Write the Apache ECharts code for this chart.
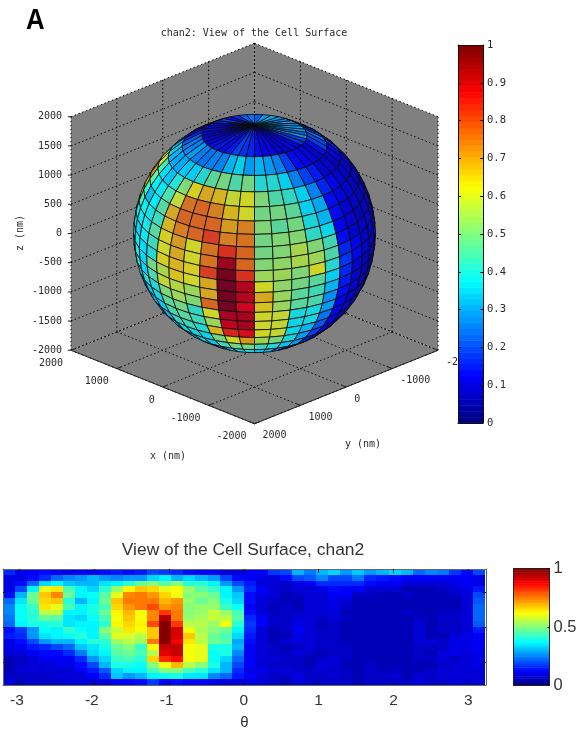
<!DOCTYPE html>
<html><head><meta charset="utf-8">
<style>html,body{margin:0;padding:0;background:#fff}#c{width:586px;height:729px}</style>
<script src="https://cdn.jsdelivr.net/npm/echarts@6/dist/echarts.min.js"></script>
</head><body><div id="c"></div>
<script>
// Surface intensity: one array per theta column, 20 values from the top z band down.
const surfaceValues = [
[.17,.10,.10,.10,.14,.23,.25,.25,.24,.22,.14,.15,.10,.10,.08,.06,.06,.06,.07,.08],
[.12,.10,.13,.20,.30,.35,.38,.38,.38,.37,.18,.17,.13,.12,.09,.07,.07,.08,.07,.07],
[.12,.13,.22,.37,.47,.47,.43,.42,.42,.40,.28,.28,.20,.15,.12,.09,.08,.08,.07,.07],
[.13,.17,.33,.60,.68,.66,.65,.55,.47,.40,.38,.35,.27,.16,.13,.11,.09,.08,.07,.07],
[.11,.22,.36,.65,.74,.68,.60,.57,.46,.41,.37,.37,.30,.20,.14,.12,.10,.09,.08,.07],
[.10,.25,.32,.45,.48,.42,.44,.36,.35,.35,.43,.38,.30,.22,.16,.12,.10,.09,.08,.08],
[.12,.27,.30,.37,.36,.30,.36,.37,.33,.36,.38,.42,.36,.32,.24,.17,.14,.12,.09,.08],
[.12,.30,.30,.33,.38,.36,.40,.40,.38,.37,.37,.36,.42,.35,.34,.28,.20,.15,.11,.08],
[.13,.28,.35,.42,.46,.47,.45,.47,.44,.42,.50,.46,.42,.40,.36,.34,.30,.21,.17,.09],
[.15,.25,.37,.52,.60,.68,.66,.63,.62,.63,.57,.60,.53,.48,.46,.43,.40,.33,.32,.12],
[.14,.28,.42,.63,.74,.75,.72,.70,.68,.67,.65,.58,.55,.50,.47,.44,.40,.37,.28,.12],
[.15,.28,.47,.68,.75,.76,.75,.62,.62,.63,.62,.56,.52,.43,.44,.42,.38,.36,.30,.13],
[.20,.34,.50,.66,.72,.76,.80,.74,.74,.80,.68,.68,.75,.62,.55,.66,.50,.44,.37,.18],
[.18,.37,.46,.60,.67,.70,.72,.82,.94,1.0,1.0,1.0,1.0,.93,.90,.83,.62,.50,.38,.12],
[.17,.30,.50,.62,.62,.72,.74,.75,.75,.82,.92,.92,.88,.93,.93,.87,.69,.50,.40,.13],
[.13,.33,.42,.52,.50,.52,.50,.50,.53,.55,.62,.68,.65,.62,.62,.62,.55,.45,.35,.12],
[.12,.30,.42,.46,.50,.47,.53,.53,.54,.55,.54,.56,.56,.60,.60,.60,.50,.42,.35,.12],
[.11,.27,.37,.43,.47,.50,.53,.57,.57,.53,.50,.47,.47,.40,.38,.38,.40,.35,.26,.10],
[.09,.20,.27,.36,.36,.40,.43,.53,.55,.62,.47,.45,.46,.40,.40,.33,.30,.30,.22,.09],
[.08,.13,.20,.27,.32,.34,.38,.44,.46,.42,.37,.34,.29,.30,.25,.22,.20,.17,.15,.08],
[.12,.11,.15,.17,.14,.14,.12,.14,.17,.18,.17,.15,.14,.12,.12,.12,.11,.10,.12,.10],
[.12,.10,.09,.12,.10,.09,.09,.09,.12,.11,.09,.09,.08,.08,.08,.08,.09,.10,.09,.08],
[.18,.09,.08,.08,.08,.07,.06,.07,.07,.07,.06,.05,.06,.07,.07,.08,.07,.08,.07,.07],
[.20,.13,.07,.07,.06,.06,.07,.07,.07,.07,.07,.06,.08,.06,.07,.07,.07,.08,.07,.06],
[.30,.20,.10,.08,.07,.06,.06,.07,.08,.10,.11,.10,.08,.07,.08,.07,.07,.07,.10,.08],
[.24,.21,.12,.08,.08,.08,.08,.08,.08,.09,.09,.09,.08,.08,.07,.06,.06,.07,.07,.07],
[.31,.25,.17,.10,.08,.08,.08,.08,.07,.06,.07,.07,.07,.07,.05,.07,.08,.08,.07,.07],
[.33,.20,.17,.13,.11,.10,.10,.09,.09,.07,.07,.07,.07,.07,.07,.08,.08,.07,.08,.07],
[.27,.19,.17,.12,.12,.08,.07,.06,.07,.06,.05,.06,.06,.07,.07,.07,.06,.07,.07,.07],
[.32,.24,.16,.11,.07,.06,.06,.06,.05,.05,.05,.05,.05,.06,.05,.06,.05,.06,.06,.06],
[.28,.17,.13,.09,.07,.06,.05,.05,.05,.06,.05,.05,.05,.05,.05,.05,.07,.07,.07,.07],
[.31,.15,.11,.08,.06,.05,.05,.05,.05,.05,.05,.05,.05,.05,.06,.06,.05,.06,.07,.07],
[.34,.14,.11,.08,.05,.05,.05,.05,.05,.05,.05,.05,.05,.05,.05,.05,.05,.07,.08,.07],
[.30,.12,.09,.06,.07,.06,.06,.07,.06,.05,.05,.05,.05,.05,.05,.05,.05,.06,.05,.07],
[.23,.11,.09,.06,.05,.05,.05,.05,.07,.08,.08,.08,.08,.07,.07,.07,.05,.06,.08,.09],
[.26,.12,.08,.05,.05,.05,.05,.05,.05,.05,.05,.06,.09,.07,.06,.07,.06,.07,.07,.07],
[.24,.12,.08,.07,.06,.05,.06,.07,.07,.07,.07,.06,.07,.07,.08,.08,.07,.08,.08,.07],
[.18,.11,.10,.08,.07,.06,.06,.07,.07,.07,.07,.08,.10,.10,.10,.07,.08,.09,.08,.08],
[.13,.12,.11,.10,.09,.09,.08,.08,.09,.09,.09,.10,.10,.10,.09,.08,.09,.08,.09,.08],
[.19,.10,.10,.15,.20,.21,.22,.22,.22,.21,.15,.12,.11,.11,.10,.10,.10,.09,.09,.08]
];
const boxTicks = [2000, 1000, 0, -1000, -2000];
const yTickLabels = ['2000', '1000', '0', '-1000', '-2'];
const zTicks = [2000, 1500, 1000, 500, 0, -500, -1000, -1500, -2000];
const thetaTicks = [-3, -2, -1, 0, 1, 2, 3];
const zBandTicks = [-0.6, 0, 0.6];
const sphereRadiusNm = 1865;
const frontColumnEdge = 15;          // theta column edge that faces the viewer

const MONO = '"DejaVu Sans Mono", monospace';
const SANS = '"Liberation Sans", Arial, sans-serif';
const INK = '#2a2a2a';
const el = 24 * Math.PI / 180, cosE = Math.cos(el), sinE = Math.sin(el), S2 = Math.SQRT2;
const LIM = 2000;
function project(x, y, z) {
  const depth = (y - x) / S2;
  return [-(x + y) / S2, z * cosE - depth * sinE];
}
function jet(v) {
  const t = (Math.min(63, Math.floor(Math.max(0, Math.min(1, v)) * 64)) + .5) / 64;
  const f = c => Math.round(255 * Math.max(0, Math.min(1, 1.5 - Math.abs(4 * t - c))));
  return `rgb(${f(3)},${f(2)},${f(1)})`;
}
const nCols = surfaceValues.length, nRows = surfaceValues[0].length;
const cells = [];
surfaceValues.forEach((col, j) => col.forEach((v, r) => cells.push([j, r, v])));

function spherePoint(j, r) {
  const z = 1 - 2 * r / nRows, rho = Math.sqrt(Math.max(0, 1 - z * z));
  const phi = (j - frontColumnEdge) * 2 * Math.PI / nCols;
  const fx = -1 / S2, fy = 1 / S2, rx = -1 / S2, ry = -1 / S2;
  const a = Math.cos(phi), b = Math.sin(phi);
  return [sphereRadiusNm * rho * (fx * a + rx * b), sphereRadiusNm * rho * (fy * a + ry * b), sphereRadiusNm * z];
}
const camera = [-cosE / S2, cosE / S2, sinE];
function renderSphere(front) {
  return (p, api) => {
    const j = api.value(0), r = api.value(1), v = api.value(2);
    const c = spherePoint(j + .5, r + .5);
    const facing = c[0] * camera[0] + c[1] * camera[1] + c[2] * camera[2] >= -60;
    if (facing !== front) return null;
    const pts = [[j, r], [j + 1, r], [j + 1, r + 1], [j, r + 1]].map(q => {
      const P = spherePoint(q[0], q[1]);
      return api.coord(project(P[0], P[1], P[2]));
    });
    return { type: 'polygon', shape: { points: pts },
      style: { fill: jet(v), stroke: front ? '#0c0c0c' : 'rgba(0,0,0,.35)', lineWidth: front ? 1 : .6, opacity: .82 } };
  };
}
function renderHeat(p, api) {
  const j = api.value(0), r = api.value(1), v = api.value(2);
  const d = 2 * Math.PI / (nCols - 1), th = -Math.PI + j * d;
  const a = api.coord([th - d / 2, 1 - 2 * r / nRows]);
  const b = api.coord([th + d / 2, 1 - 2 * (r + 1) / nRows]);
  const x0 = Math.round(a[0]), y0 = Math.round(a[1]);
  return { type: 'rect', shape: { x: x0, y: y0, width: Math.round(b[0]) - x0, height: Math.round(b[1]) - y0 },
    style: { fill: jet(v) } };
}
// walls and floor of the 3D box
const faces = [
  [[LIM, LIM, -LIM], [LIM, -LIM, -LIM], [LIM, -LIM, LIM], [LIM, LIM, LIM]],
  [[LIM, -LIM, -LIM], [-LIM, -LIM, -LIM], [-LIM, -LIM, LIM], [LIM, -LIM, LIM]],
  [[LIM, LIM, -LIM], [-LIM, LIM, -LIM], [-LIM, -LIM, -LIM], [LIM, -LIM, -LIM]]
];
const gridSegs = [];
boxTicks.forEach(t => {
  gridSegs.push([t, LIM, -LIM, t, -LIM, -LIM], [LIM, t, -LIM, -LIM, t, -LIM],
                [LIM, t, -LIM, LIM, t, LIM], [t, -LIM, -LIM, t, -LIM, LIM]);
});
zTicks.forEach(z => { gridSegs.push([LIM, LIM, z, LIM, -LIM, z], [LIM, -LIM, z, -LIM, -LIM, z]); });
const solidSegs = [[LIM, LIM, -LIM, -LIM, LIM, -LIM], [-LIM, LIM, -LIM, -LIM, -LIM, -LIM]];
boxTicks.forEach(t => {
  solidSegs.push([t, LIM, -LIM, t, LIM - 90, -LIM], [-LIM, t, -LIM, -LIM + 90, t, -LIM]);
});
zTicks.forEach(z => solidSegs.push([LIM, LIM, z, LIM + 35, LIM + 35, z]));
const P3 = (api, i) => api.coord(project(api.value(i), api.value(i + 1), api.value(i + 2)));
function segRender(style) {
  return (p, api) => {
    const a = P3(api, 0), b = P3(api, 3);
    return { type: 'line', shape: { x1: a[0], y1: a[1], x2: b[0], y2: b[1] }, style };
  };
}
// tick labels: [x, y, z, text, align, dx, dy]
const tickLabels = [];
boxTicks.forEach(t => tickLabels.push([t, LIM, -LIM, String(t), 'right', -8, 13]));
boxTicks.forEach((t, i) => tickLabels.push([-LIM, t, -LIM, yTickLabels[i], 'left', 8, 12]));
zTicks.forEach(z => tickLabels.push([LIM, LIM, z, String(z), 'right', -9, 0]));

const levels = Array.from({ length: 64 }, (_, k) => k);
function renderBar(p, api) {
  const k = api.value(0);
  const a = api.coord([0, (k + 1) / 64]), b = api.coord([1, k / 64]);
  return { type: 'rect', shape: { x: a[0], y: a[1], width: b[0] - a[0], height: b[1] - a[1] + .5 },
    style: { fill: jet((k + .5) / 64) } };
}
const off = { show: false };
const hiddenAx = (gridIndex, min, max) => ({ type: 'value', gridIndex, min, max, show: false });
const yHalf = LIM * cosE + LIM * S2 * sinE;
const frame = c => ({ show: true, onZero: false, lineStyle: { color: c, width: 1 } });
const inTicks = (vals, len) => ({ show: true, inside: true, length: len, customValues: vals, lineStyle: { color: '#111' } });

const option = {
  animation: false,
  title: [
    { text: 'chan2: View of the Cell Surface', left: 249, top: 23, textAlign: 'center',
      textStyle: { fontFamily: MONO, fontSize: 10, fontWeight: 'normal', color: INK } },
    { text: 'View of the Cell Surface, chan2', left: 238, top: 537, textAlign: 'center',
      textStyle: { fontFamily: SANS, fontSize: 17.4, fontWeight: 'normal', color: '#333' } }
  ],
  graphic: [
    { type: 'text', x: 26, y: 21, scaleX: .86, style: { text: 'A', fontFamily: 'Liberation Sans', fontSize: 30, fontWeight: 'bold', fill: '#000', textAlign: 'left', textVerticalAlign: 'middle' } },
    { type: 'text', x: 168, y: 456, style: { text: 'x (nm)', font: '10px ' + MONO, fill: INK, textAlign: 'center', textVerticalAlign: 'middle' } },
    { type: 'text', x: 363, y: 444, style: { text: 'y (nm)', font: '10px ' + MONO, fill: INK, textAlign: 'center', textVerticalAlign: 'middle' } },
    { type: 'text', x: 20, y: 233, rotation: Math.PI / 2, style: { text: 'z (nm)', font: '10px ' + MONO, fill: INK, textAlign: 'center', textVerticalAlign: 'middle' } }
  ],
  grid: [
    { left: 71, top: 233.5 - yHalf * .0639, width: 367, height: 2 * yHalf * .0639, outerBoundsMode: 'none' },
    { left: 3, top: 569, width: 483, height: 116, outerBoundsMode: 'none' },
    { left: 458, top: 45, width: 25, height: 378, outerBoundsMode: 'none' },
    { left: 513.5, top: 568.5, width: 36, height: 117, outerBoundsMode: 'none' }
  ],
  xAxis: [
    hiddenAx(0, -LIM * S2, LIM * S2),
    { type: 'value', gridIndex: 1, min: -3.215, max: 3.235, z: 5, position: 'bottom', axisLine: frame('#666'),
      axisTick: inTicks(thetaTicks, 4), splitLine: off,
      axisLabel: { customValues: thetaTicks, margin: 8, fontFamily: SANS, fontSize: 15.5, color: '#333',
        formatter: v => v < 0 ? v + ' ' : String(v) },
      name: 'θ', nameLocation: 'middle', nameGap: 30, nameTextStyle: { fontFamily: SANS, fontSize: 15, color: '#333' } },
    { type: 'value', gridIndex: 1, min: -3.215, max: 3.235, z: 5, position: 'top', axisLine: frame('#666'),
      axisTick: inTicks(thetaTicks, 4), axisLabel: off, splitLine: off },
    { type: 'value', gridIndex: 2, min: 0, max: 1, z: 5, position: 'top', axisLine: frame('#111'), axisTick: off, axisLabel: off, splitLine: off },
    { type: 'value', gridIndex: 2, min: 0, max: 1, z: 5, position: 'bottom', axisLine: frame('#111'), axisTick: off, axisLabel: off, splitLine: off },
    { type: 'value', gridIndex: 3, min: 0, max: 1, z: 5, position: 'top', axisLine: frame('#222'), axisTick: off, axisLabel: off, splitLine: off },
    { type: 'value', gridIndex: 3, min: 0, max: 1, z: 5, position: 'bottom', axisLine: frame('#222'), axisTick: off, axisLabel: off, splitLine: off }
  ],
  yAxis: [
    hiddenAx(0, -yHalf, yHalf),
    { type: 'value', gridIndex: 1, min: -1, max: 1, z: 5, position: 'left', axisLine: frame('#666'),
      axisTick: inTicks(zBandTicks, 4), axisLabel: off, splitLine: off },
    { type: 'value', gridIndex: 1, min: -1, max: 1, z: 5, position: 'right', axisLine: frame('#666'),
      axisTick: inTicks(zBandTicks, 4), axisLabel: off, splitLine: off },
    { type: 'value', gridIndex: 2, min: 0, max: 1, interval: .1, z: 5, position: 'right', axisLine: frame('#111'),
      axisTick: { show: true, inside: true, length: 3, lineStyle: { color: '#111' } }, splitLine: off,
      axisLabel: { margin: 4, padding: [2, 0, 0, 0], fontFamily: MONO, fontSize: 10.5, color: INK } },
    { type: 'value', gridIndex: 2, min: 0, max: 1, interval: .1, z: 5, position: 'left', axisLine: frame('#111'),
      axisTick: { show: true, inside: true, length: 3, lineStyle: { color: '#111' } }, axisLabel: off, splitLine: off },
    { type: 'value', gridIndex: 3, min: 0, max: 1, interval: .5, z: 5, position: 'right', axisLine: frame('#222'),
      axisTick: { show: true, inside: true, length: 2, lineStyle: { color: '#111' } }, splitLine: off,
      axisLabel: { margin: 4, fontFamily: SANS, fontSize: 16.5, color: '#333' } },
    { type: 'value', gridIndex: 3, min: 0, max: 1, interval: .5, z: 5, position: 'left', axisLine: frame('#222'), axisTick: off, axisLabel: off, splitLine: off }
  ],
  series: [
    { type: 'custom', xAxisIndex: 0, yAxisIndex: 0, clip: false, silent: true, data: faces.map((_, i) => [i]),
      renderItem: (p, api) => ({ type: 'polygon',
        shape: { points: faces[api.value(0)].map(q => api.coord(project(q[0], q[1], q[2]))) },
        style: { fill: '#808080', stroke: 'none' } }) },
    { type: 'custom', xAxisIndex: 0, yAxisIndex: 0, clip: false, silent: true, data: gridSegs,
      renderItem: segRender({ stroke: '#000', lineWidth: 1, lineDash: [1.5, 2.5], fill: 'none' }) },
    { type: 'custom', xAxisIndex: 0, yAxisIndex: 0, clip: false, silent: true, data: solidSegs,
      renderItem: segRender({ stroke: '#222', lineWidth: 1, fill: 'none' }) },
    { type: 'custom', xAxisIndex: 0, yAxisIndex: 0, clip: false, silent: true, data: tickLabels,
      encode: { x: 0, y: 1 },
      renderItem: (p, api) => {
        const t = tickLabels[p.dataIndex];
        const a = api.coord(project(t[0], t[1], t[2]));
        return { type: 'text', x: a[0] + t[5], y: a[1] + t[6],
          style: { text: t[3], font: '10px ' + MONO, fill: INK, textAlign: t[4], textVerticalAlign: 'middle' } };
      } },
    { type: 'custom', xAxisIndex: 0, yAxisIndex: 0, clip: false, silent: true, data: cells, renderItem: renderSphere(false) },
    { type: 'custom', xAxisIndex: 0, yAxisIndex: 0, clip: false, silent: true, data: cells, renderItem: renderSphere(true) },
    { type: 'custom', xAxisIndex: 1, yAxisIndex: 1, clip: true, silent: true, data: cells, renderItem: renderHeat,
      encode: { x: 0, y: 1 } },
    { type: 'custom', xAxisIndex: 3, yAxisIndex: 3, silent: true, data: levels.map(k => [k]), renderItem: renderBar },
    { type: 'custom', xAxisIndex: 5, yAxisIndex: 5, silent: true, data: levels.map(k => [k]), renderItem: renderBar }
  ]
};
echarts.init(document.getElementById('c'), null, { renderer: 'canvas' }).setOption(option);
</script></body></html>
